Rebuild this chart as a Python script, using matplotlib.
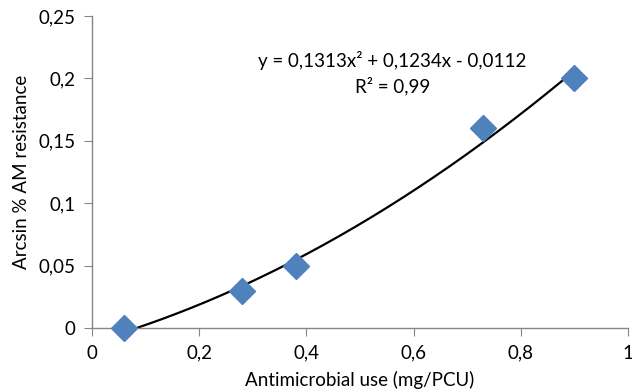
import numpy as np
import matplotlib
matplotlib.use("Agg")
import matplotlib.pyplot as plt
from matplotlib.ticker import FuncFormatter

plt.rcParams['font.family'] = ['Lato', 'DejaVu Sans']

x_use = [0.06, 0.28, 0.38, 0.73, 0.90]
y_res = [0.0, 0.03, 0.05, 0.16, 0.20]
coef = [0.1313, 0.1234, -0.0112]
eq_text = "y = 0,1313x² + 0,1234x - 0,0112"
r2_text = "R² = 0,99"
x_ticks = [0, 0.2, 0.4, 0.6, 0.8, 1.0]
y_ticks = [0, 0.05, 0.1, 0.15, 0.2, 0.25]

fig = plt.figure(figsize=(6.32, 3.92), dpi=100)
ax = fig.add_axes([92/632, 1-328/392, 536/632, 312/392])

xs = np.linspace(min(x_use), max(x_use), 200)
ax.plot(xs, np.polyval(coef, xs), color='black', lw=1.6, zorder=2)
ax.plot(x_use, y_res, linestyle='none', marker='D', ms=13.5, color='#4F81BD',
        markeredgecolor='#4F81BD', zorder=3, clip_on=False)

ax.set_xlim(0, 1)
ax.set_ylim(0, 0.25)
ax.set_xticks(x_ticks)
ax.set_yticks(y_ticks)

def fmt(v, pos):
    s = ('%.2f' % v).rstrip('0').rstrip('.')
    return s.replace('.', ',')
ax.xaxis.set_major_formatter(FuncFormatter(fmt))
ax.yaxis.set_major_formatter(FuncFormatter(fmt))

for s in ['top', 'right']:
    ax.spines[s].set_visible(False)
for s in ['left', 'bottom']:
    ax.spines[s].set_color('#868686')
    ax.spines[s].set_linewidth(1)
ax.tick_params(direction='out', length=6, color='#868686', labelsize=13.5, pad=6)

ax.set_xlabel("Antimicrobial use (mg/PCU)", fontsize=13.5, labelpad=7)
ax.set_ylabel("Arcsin % AM resistance", fontsize=13.5, labelpad=6)

ax.text(0.56, 0.214, eq_text, ha='center', va='center', fontsize=13.5)
ax.text(0.56, 0.194, r2_text, ha='center', va='center', fontsize=13.5)

fig.savefig("out.png", dpi=100)
